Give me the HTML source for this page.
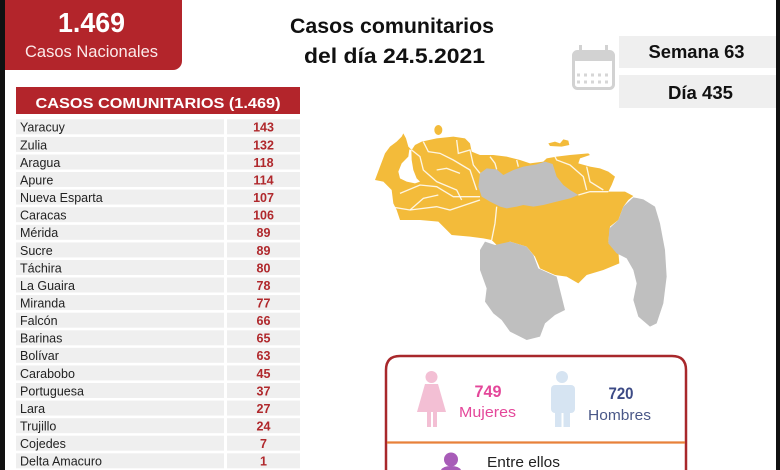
<!DOCTYPE html>
<html><head><meta charset="utf-8"><style>
html,body{margin:0;padding:0;background:#fff;}
svg{display:block;}
text{font-family:"Liberation Sans",sans-serif;}
</style></head><body>
<svg width="780" height="470" viewBox="0 0 780 470" xmlns="http://www.w3.org/2000/svg">
<rect x="0" y="0" width="780" height="470" fill="#fff"/>
<!-- black edges -->
<rect x="0" y="0" width="5" height="470" fill="#111"/>
<rect x="776" y="0" width="4" height="470" fill="#111"/>

<!-- red national box -->
<rect x="5" y="-10" width="177" height="80" rx="9" fill="#b3252b"/>
<rect x="5" y="-10" width="20" height="80" fill="#b3252b"/>
<text x="91.5" y="32" font-size="28" font-weight="bold" fill="#fff" text-anchor="middle" textLength="67" lengthAdjust="spacingAndGlyphs">1.469</text>
<text x="91.5" y="57" font-size="17" fill="#fbeaea" text-anchor="middle" textLength="133" lengthAdjust="spacingAndGlyphs">Casos Nacionales</text>

<!-- title -->
<text x="392" y="33" font-size="21" font-weight="bold" fill="#111" text-anchor="middle" textLength="204" lengthAdjust="spacingAndGlyphs">Casos comunitarios</text>
<text x="394.5" y="63" font-size="21" font-weight="bold" fill="#111" text-anchor="middle" textLength="181" lengthAdjust="spacingAndGlyphs">del día 24.5.2021</text>

<!-- calendar icon -->
<g fill="none" stroke="#d2d2d2" stroke-width="3">
<rect x="573.5" y="51.5" width="40" height="37" rx="4"/>
</g>
<rect x="573" y="51" width="41" height="10" rx="3" fill="#d2d2d2"/>
<rect x="579" y="45" width="3" height="9" fill="#d2d2d2"/>
<rect x="605" y="45" width="3" height="9" fill="#d2d2d2"/>
<g fill="#d6d6d6">
<rect x="577" y="73.5" width="3" height="3"/><rect x="584" y="73.5" width="3" height="3"/><rect x="591" y="73.5" width="3" height="3"/><rect x="598" y="73.5" width="3" height="3"/><rect x="605" y="73.5" width="3" height="3"/>
<rect x="577" y="80.5" width="3" height="3"/><rect x="584" y="80.5" width="3" height="3"/><rect x="591" y="80.5" width="3" height="3"/><rect x="598" y="80.5" width="3" height="3"/><rect x="605" y="80.5" width="3" height="3"/>
</g>

<!-- semana / dia -->
<rect x="619" y="36" width="157" height="32" fill="#efefef"/>
<rect x="619" y="75" width="157" height="33" fill="#efefef"/>
<text x="696.5" y="58" font-size="18" font-weight="bold" fill="#111" text-anchor="middle" textLength="96" lengthAdjust="spacingAndGlyphs">Semana 63</text>
<text x="700.5" y="99" font-size="18" font-weight="bold" fill="#111" text-anchor="middle" textLength="65" lengthAdjust="spacingAndGlyphs">Día 435</text>

<!-- table header -->
<rect x="16" y="87" width="284" height="27" fill="#b3252b"/>
<text x="158" y="108" font-size="15" font-weight="bold" fill="#fff" text-anchor="middle" textLength="245" lengthAdjust="spacingAndGlyphs">CASOS COMUNITARIOS (1.469)</text>

<!-- table rows -->
<g fill="#efefef">
<rect x="16" y="119.3" width="208" height="15"/><rect x="227" y="119.3" width="73" height="15"/>
<rect x="16" y="136.9" width="208" height="15"/><rect x="227" y="136.9" width="73" height="15"/>
<rect x="16" y="154.5" width="208" height="15"/><rect x="227" y="154.5" width="73" height="15"/>
<rect x="16" y="172.0" width="208" height="15"/><rect x="227" y="172.0" width="73" height="15"/>
<rect x="16" y="189.6" width="208" height="15"/><rect x="227" y="189.6" width="73" height="15"/>
<rect x="16" y="207.2" width="208" height="15"/><rect x="227" y="207.2" width="73" height="15"/>
<rect x="16" y="224.8" width="208" height="15"/><rect x="227" y="224.8" width="73" height="15"/>
<rect x="16" y="242.4" width="208" height="15"/><rect x="227" y="242.4" width="73" height="15"/>
<rect x="16" y="260.0" width="208" height="15"/><rect x="227" y="260.0" width="73" height="15"/>
<rect x="16" y="277.5" width="208" height="15"/><rect x="227" y="277.5" width="73" height="15"/>
<rect x="16" y="295.1" width="208" height="15"/><rect x="227" y="295.1" width="73" height="15"/>
<rect x="16" y="312.7" width="208" height="15"/><rect x="227" y="312.7" width="73" height="15"/>
<rect x="16" y="330.3" width="208" height="15"/><rect x="227" y="330.3" width="73" height="15"/>
<rect x="16" y="347.8" width="208" height="15"/><rect x="227" y="347.8" width="73" height="15"/>
<rect x="16" y="365.4" width="208" height="15"/><rect x="227" y="365.4" width="73" height="15"/>
<rect x="16" y="383.0" width="208" height="15"/><rect x="227" y="383.0" width="73" height="15"/>
<rect x="16" y="400.6" width="208" height="15"/><rect x="227" y="400.6" width="73" height="15"/>
<rect x="16" y="418.2" width="208" height="15"/><rect x="227" y="418.2" width="73" height="15"/>
<rect x="16" y="435.7" width="208" height="15"/><rect x="227" y="435.7" width="73" height="15"/>
<rect x="16" y="453.3" width="208" height="15"/><rect x="227" y="453.3" width="73" height="15"/>
</g>
<g font-size="12.5" fill="#222">
<text x="20" y="131.7">Yaracuy</text>
<text x="20" y="149.3">Zulia</text>
<text x="20" y="166.9">Aragua</text>
<text x="20" y="184.4">Apure</text>
<text x="20" y="202.0">Nueva Esparta</text>
<text x="20" y="219.6">Caracas</text>
<text x="20" y="237.2">Mérida</text>
<text x="20" y="254.8">Sucre</text>
<text x="20" y="272.4">Táchira</text>
<text x="20" y="289.9">La Guaira</text>
<text x="20" y="307.5">Miranda</text>
<text x="20" y="325.1">Falcón</text>
<text x="20" y="342.7">Barinas</text>
<text x="20" y="360.2">Bolívar</text>
<text x="20" y="377.8">Carabobo</text>
<text x="20" y="395.4">Portuguesa</text>
<text x="20" y="413.0">Lara</text>
<text x="20" y="430.6">Trujillo</text>
<text x="20" y="448.1">Cojedes</text>
<text x="20" y="465.7">Delta Amacuro</text>
</g>
<g font-size="12.5" font-weight="bold" fill="#b0282c" text-anchor="middle">
<text x="263.5" y="131.7">143</text>
<text x="263.5" y="149.3">132</text>
<text x="263.5" y="166.9">118</text>
<text x="263.5" y="184.4">114</text>
<text x="263.5" y="202.0">107</text>
<text x="263.5" y="219.6">106</text>
<text x="263.5" y="237.2">89</text>
<text x="263.5" y="254.8">89</text>
<text x="263.5" y="272.4">80</text>
<text x="263.5" y="289.9">78</text>
<text x="263.5" y="307.5">77</text>
<text x="263.5" y="325.1">66</text>
<text x="263.5" y="342.7">65</text>
<text x="263.5" y="360.2">63</text>
<text x="263.5" y="377.8">45</text>
<text x="263.5" y="395.4">37</text>
<text x="263.5" y="413.0">27</text>
<text x="263.5" y="430.6">24</text>
<text x="263.5" y="448.1">7</text>
<text x="263.5" y="465.7">1</text>
</g>

<!-- map -->
<g transform="translate(370,110) scale(0.33333)">
<path fill="#f3bb3a" d="M15,210 L30,170 L45,130 L60,110 L80,95 L95,80 L100,70 L108,85 L115,110 L125,120 L135,105 L155,95 L200,85 L250,80 L285,85 L300,100 L305,125 L330,135 L370,135 L410,140 L450,150 L480,160 L520,155 L530,145 L560,140 L600,135 L655,130 L660,135 L630,145 L625,160 L660,170 L690,175 L715,185 L735,200 L725,225 L715,245 L740,245 L765,245 L790,258 L775,270 L760,290 L745,330 L720,350 L715,395 L745,425 L748,460 L700,480 L650,495 L625,520 L590,500 L555,495 L510,475 L495,440 L470,410 L420,395 L385,410 L365,390 L340,385 L300,380 L245,375 L205,335 L150,330 L90,330 L80,300 L70,280 L65,240 L40,215 Z"/>
<ellipse cx="205" cy="60" rx="12" ry="15" fill="#f3bb3a"/>
<path fill="#f3bb3a" d="M535,100 L555,95 L570,100 L580,88 L595,92 L598,105 L575,110 L540,108 Z"/>
<path fill="#bfbfbf" d="M330,190 L350,175 L380,178 L400,195 L430,180 L460,170 L500,163 L525,155 L548,162 L560,200 L580,225 L600,240 L625,255 L600,265 L560,275 L520,285 L490,290 L460,285 L440,290 L410,295 L390,290 L360,275 L335,260 L325,230 Z"/>
<path fill="#bfbfbf" d="M330,420 L345,395 L375,405 L420,395 L470,410 L490,435 L505,475 L560,500 L575,560 L585,600 L555,615 L525,640 L510,680 L470,690 L420,665 L395,630 L370,610 L345,575 L350,535 L330,480 Z"/>
<path fill="#bfbfbf" d="M790,262 L820,268 L855,290 L870,340 L885,420 L890,500 L880,580 L860,640 L840,650 L805,620 L790,570 L800,520 L790,480 L770,445 L740,430 L715,400 L718,355 L745,330 L760,290 Z"/>
<path fill="#fff" d="M85,185 L95,160 L115,140 L118,118 L124,120 L125,150 L130,180 L140,205 L150,215 L135,220 L110,215 L90,205 Z"/>
<g fill="none" stroke="#fff" stroke-width="4" stroke-opacity="0.85">
<polyline points="125,120 150,140 160,180 200,215 260,240 275,270"/>
<polyline points="160,95 175,125 210,130 250,150 300,180 320,240"/>
<polyline points="260,90 265,130 300,120 310,165 330,190"/>
<polyline points="90,250 150,225 200,230 250,260 330,260"/>
<polyline points="120,300 160,265 205,255"/>
<polyline points="60,290 120,300 200,290 240,300 330,270"/>
<polyline points="380,290 375,340 365,390"/>
<polyline points="555,140 560,150 600,165 640,200 650,240"/>
<polyline points="650,170 660,215 700,240"/>
<polyline points="625,255 660,245 715,245"/>
<polyline points="360,140 375,160 380,178"/>
<polyline points="440,150 445,170"/>
<polyline points="200,180 230,175 270,190"/>
</g>
</g>

<!-- bottom box -->
<path d="M386,480 L386,370 Q386,356 400,356 L672,356 Q686,356 686,370 L686,480" fill="none" stroke="#a8282b" stroke-width="2.5"/>
<line x1="387" y1="442.5" x2="685" y2="442.5" stroke="#e8813a" stroke-width="2.2"/>

<!-- female icon -->
<g fill="#f3bfd4">
<circle cx="431.5" cy="377" r="6"/>
<path d="M425,384 L438,384 L446,412 L417,412 Z"/>
<rect x="427" y="411" width="4" height="16"/>
<rect x="433" y="411" width="4" height="16"/>
</g>
<text x="488" y="397" font-size="17" font-weight="bold" fill="#e4479a" text-anchor="middle" textLength="27" lengthAdjust="spacingAndGlyphs">749</text>
<text x="487.5" y="417" font-size="15" fill="#e4479a" text-anchor="middle" textLength="57" lengthAdjust="spacingAndGlyphs">Mujeres</text>

<!-- male icon -->
<g fill="#d6e4f2">
<circle cx="562" cy="377" r="6"/>
<rect x="551" y="385" width="24" height="28" rx="4"/>
<rect x="555" y="410" width="6.5" height="17"/>
<rect x="563.5" y="410" width="6.5" height="17"/>
</g>
<text x="621" y="399" font-size="17" font-weight="bold" fill="#3d4b86" text-anchor="middle" textLength="25" lengthAdjust="spacingAndGlyphs">720</text>
<text x="619.5" y="420" font-size="15" fill="#4a5888" text-anchor="middle" textLength="63" lengthAdjust="spacingAndGlyphs">Hombres</text>

<!-- purple icon -->
<g fill="#a85cb8">
<circle cx="451" cy="459.5" r="7"/>
<path d="M440,474 Q440,466 451,466 Q462,466 462,474 Z"/>
</g>
<text x="487" y="467" font-size="15" fill="#222" textLength="73" lengthAdjust="spacingAndGlyphs">Entre ellos</text>
</svg>
</body></html>
